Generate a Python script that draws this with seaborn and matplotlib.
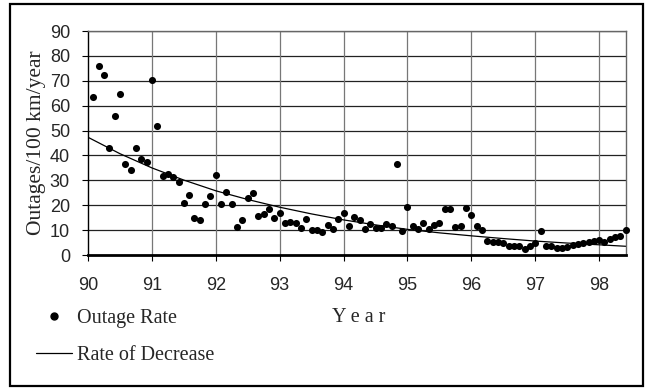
import numpy as np
import pandas as pd
import matplotlib
matplotlib.use("Agg")
import matplotlib.pyplot as plt
from matplotlib.lines import Line2D
from matplotlib.patches import Rectangle
import seaborn as sns

# ---- data (monthly outage rate, Outages/100 km/year) ----
start_year = 90
month_index = list(range(1, 102))
outage_rate = [63.5, 76, 72.5, 43, 56, 64.5, 36.5, 34, 43, 38.5, 37.5, 70.5,
               52, 31.8, 32.7, 31.5, 29.2, 21, 24, 15, 14, 20.6, 23.7, 32,
               20.6, 25.5, 20.6, 11.1, 14, 22.8, 24.9, 15.8, 16.6, 18.6, 15, 16.7,
               12.7, 13.1, 12.7, 10.7, 14.5, 10, 9.9, 9.2, 12, 10.4, 14.3, 16.9,
               11.5, 15.1, 13.9, 10.6, 12.4, 10.7, 11, 12.4, 11.6, 36.5, 9.8, 19.2,
               11.6, 10.3, 12.7, 10.3, 12.2, 12.7, 18.4, 18.4, 11.4, 11.6, 19, 16.2,
               11.6, 10, 5.7, 5.2, 5.2, 4.7, 3.7, 3.7, 3.7, 2.5, 3.7, 4.9,
               9.7, 3.7, 3.7, 2.9, 2.9, 3.3, 4, 4.4, 4.9, 5.3, 5.7, 6.1,
               5.1, 6.3, 7.1, 7.8, 10]
# trend line ("Rate of Decrease")
trend_year = [90, 90.5, 91, 91.5, 92, 92.5, 93, 93.5, 94, 94.5, 95, 95.5,
              96, 96.5, 97, 97.5, 98, 98.42]
trend_value = [47.3, 40.7, 35.0, 30.1, 25.8, 22.3, 19.2, 16.5, 14.1, 12.1,
               10.3, 8.9, 7.7, 6.6, 5.6, 4.8, 4.1, 3.5]
x_ticks = [90, 91, 92, 93, 94, 95, 96, 97, 98]
y_ticks = [0, 10, 20, 30, 40, 50, 60, 70, 80, 90]

df = pd.DataFrame({"year": [start_year + m / 12 for m in month_index],
                   "rate": outage_rate})
trend = pd.DataFrame({"year": trend_year, "rate": trend_value})

sns.set_style("white")
plt.rcParams["font.family"] = ["Liberation Sans", "DejaVu Sans"]

W, H = 646, 389
fig = plt.figure(figsize=(W / 100, H / 100), dpi=100)
ax = fig.add_axes([88 / W, 1 - 255 / H, (626 - 88) / W, (255 - 31) / H])

# grid
for yv in y_ticks[1:]:
    ax.axhline(yv, color="#222222", lw=0.9, zorder=0)
for xv in x_ticks[1:]:
    ax.axvline(xv, color="#777777", lw=0.9, zorder=0)

sns.lineplot(data=trend, x="year", y="rate", color="black", lw=0.9, ax=ax,
             zorder=2, legend=False)
sns.scatterplot(data=df, x="year", y="rate", color="black", s=26,
                edgecolor="black", linewidth=0, ax=ax, zorder=3, legend=False,
                clip_on=False)

ax.set_xlim(90, 98.42)
ax.set_ylim(0, 90)
ax.set_xticks(x_ticks)
ax.set_yticks(y_ticks)
ax.set_xticklabels([str(v) for v in x_ticks])
ax.set_yticklabels([str(v) for v in y_ticks])
ax.tick_params(axis="both", labelsize=13, direction="out", length=4,
               width=0.8, color="black")
ax.tick_params(axis="x", pad=12, bottom=True)
ax.tick_params(axis="y", pad=9, left=True)
ax.set_xlabel("")
ax.set_ylabel("")

for side in ["top", "right"]:
    ax.spines[side].set_color("#666666")
    ax.spines[side].set_linewidth(1.0)
ax.spines["left"].set_color("black")
ax.spines["left"].set_linewidth(1.0)
ax.spines["bottom"].set_color("black")
ax.spines["bottom"].set_linewidth(2.0)

serif = ["Liberation Serif", "DejaVu Serif"]
fig.text(37 / W, 1 - 143 / H, "Outages/100 km/year", rotation=90,
         ha="center", va="center", fontsize=15.5, family=serif)
fig.text(359 / W, 1 - 318 / H, "Y e a r", ha="center", va="center",
         fontsize=14.5, family=serif)

handles = [Line2D([], [], marker="o", color="black", ls="none", markersize=5),
           Line2D([], [], color="black", lw=0.9)]
fig.legend(handles, ["Outage Rate", "Rate of Decrease"], loc="upper left",
           bbox_to_anchor=(36 / W, 1 - 309 / H), frameon=False, borderpad=0,
           borderaxespad=0, handlelength=1.8, handletextpad=0.25,
           labelspacing=0.9, prop={"family": serif, "size": 14.5})

fig.patches.append(Rectangle((10 / W, 1 - 386 / H), (643 - 10) / W,
                             (386 - 4) / H, transform=fig.transFigure,
                             fill=False, edgecolor="black", lw=1.6))

fig.savefig("out.png", dpi=100)
